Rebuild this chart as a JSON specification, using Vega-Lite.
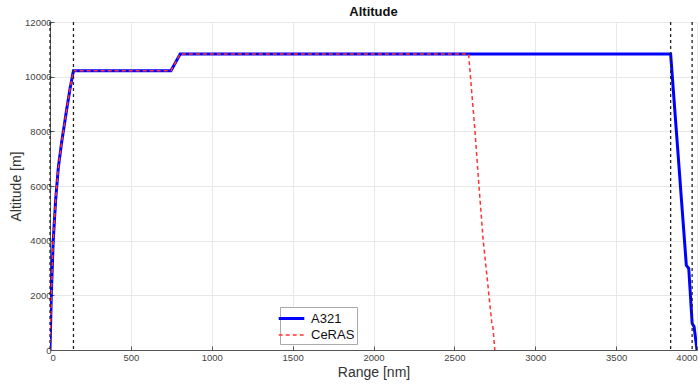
{
  "$schema": "https://vega.github.io/schema/vega-lite/v6.json",
  "autosize": "none",
  "width": 647,
  "height": 328,
  "padding": {"left": 50, "top": 22, "right": 3, "bottom": 35},
  "background": "white",
  "config": {
    "font": "Liberation Sans",
    "view": {"stroke": null},
    "axis": {
      "grid": true,
      "gridColor": "#e8e8e8",
      "gridWidth": 1,
      "domainColor": "#555",
      "tickColor": "#555",
      "tickSize": -4,
      "labelFontSize": 9.5,
      "labelColor": "#444",
      "format": "d",
      "titleFontSize": 14,
      "titleFontWeight": "normal",
      "titleColor": "#333"
    },
    "legend": {
      "title": null, "orient": "none", "legendX": 230, "legendY": 285,
      "symbolType": "M-1.6,0H1.6", "symbolSize": 256, "labelFontSize": 13, "labelColor": "#111",
      "fillColor": "white", "strokeColor": "#aaa", "padding": 2, "rowPadding": 0, "symbolOffset": 0, "labelOffset": 10
    }
  },
  "title": {"text": "Altitude", "fontSize": 13, "fontWeight": "bold", "color": "#111", "offset": -2},
  "datasets": {
    "profile": [
      {"series": "A321", "range": 0, "alt": 0},
      {"series": "A321", "range": 8, "alt": 2000},
      {"series": "A321", "range": 20, "alt": 4000},
      {"series": "A321", "range": 35, "alt": 5500},
      {"series": "A321", "range": 52, "alt": 6700},
      {"series": "A321", "range": 72, "alt": 7600},
      {"series": "A321", "range": 103, "alt": 8800},
      {"series": "A321", "range": 125, "alt": 9600},
      {"series": "A321", "range": 145, "alt": 10220},
      {"series": "A321", "range": 748, "alt": 10220},
      {"series": "A321", "range": 805, "alt": 10830},
      {"series": "A321", "range": 3837, "alt": 10830},
      {"series": "A321", "range": 3934, "alt": 3100},
      {"series": "A321", "range": 3949, "alt": 2985},
      {"series": "A321", "range": 3970, "alt": 980},
      {"series": "A321", "range": 3982, "alt": 850},
      {"series": "A321", "range": 4000, "alt": 0},
      {"series": "CeRAS", "range": 0, "alt": 0},
      {"series": "CeRAS", "range": 8, "alt": 2000},
      {"series": "CeRAS", "range": 20, "alt": 4000},
      {"series": "CeRAS", "range": 35, "alt": 5500},
      {"series": "CeRAS", "range": 52, "alt": 6700},
      {"series": "CeRAS", "range": 72, "alt": 7600},
      {"series": "CeRAS", "range": 103, "alt": 8800},
      {"series": "CeRAS", "range": 125, "alt": 9600},
      {"series": "CeRAS", "range": 145, "alt": 10220},
      {"series": "CeRAS", "range": 748, "alt": 10220},
      {"series": "CeRAS", "range": 805, "alt": 10830},
      {"series": "CeRAS", "range": 2588, "alt": 10830},
      {"series": "CeRAS", "range": 2605, "alt": 9600},
      {"series": "CeRAS", "range": 2627, "alt": 8040},
      {"series": "CeRAS", "range": 2652, "alt": 6000},
      {"series": "CeRAS", "range": 2678, "alt": 4020},
      {"series": "CeRAS", "range": 2705, "alt": 2500},
      {"series": "CeRAS", "range": 2732, "alt": 950},
      {"series": "CeRAS", "range": 2738, "alt": 850},
      {"series": "CeRAS", "range": 2750, "alt": 0}
    ],
    "markers": [
      {"range": 0},
      {"range": 145},
      {"range": 3837},
      {"range": 3970}
    ]
  },
  "layer": [
    {
      "data": {"name": "profile"},
      "mark": {"type": "line", "clip": true},
      "encoding": {
        "x": {
          "field": "range", "type": "quantitative",
          "scale": {"domain": [0, 4000], "nice": false},
          "axis": {"title": "Range [nm]", "values": [0, 500, 1000, 1500, 2000, 2500, 3000, 3500, 4000], "labelPadding": 6, "titlePadding": 4}
        },
        "y": {
          "field": "alt", "type": "quantitative",
          "scale": {"domain": [0, 12000], "nice": false},
          "axis": {"title": "Altitude [m]", "values": [0, 2000, 4000, 6000, 8000, 10000, 12000], "labelPadding": 3, "titlePadding": 1}
        },
        "color": {
          "field": "series", "type": "nominal",
          "scale": {"domain": ["A321", "CeRAS"], "range": ["#0000ff", "#ff3333"]}
        },
        "strokeDash": {
          "field": "series", "type": "nominal",
          "scale": {"domain": ["A321", "CeRAS"], "range": [[1, 0], [4, 3]]}
        },
        "strokeWidth": {
          "field": "series", "type": "nominal",
          "scale": {"domain": ["A321", "CeRAS"], "range": [3, 1.5]}
        }
      }
    },
    {
      "data": {"name": "markers"},
      "mark": {"type": "rule", "color": "#222", "strokeDash": [3, 3], "strokeWidth": 1.3},
      "encoding": {
        "x": {"field": "range", "type": "quantitative"}
      }
    }
  ]
}
